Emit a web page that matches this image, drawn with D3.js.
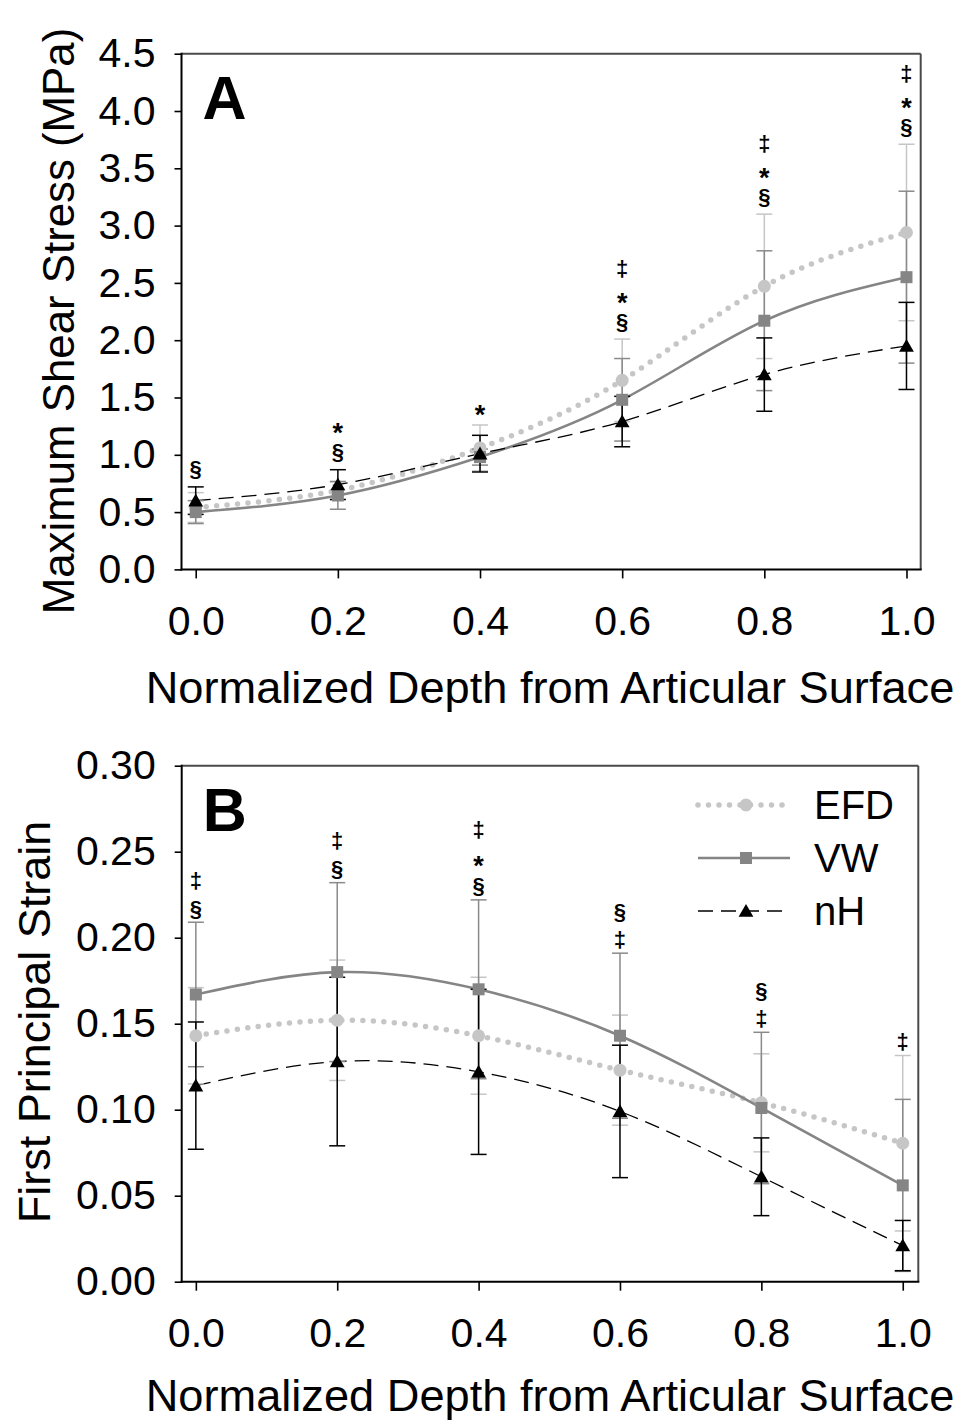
<!DOCTYPE html>
<html>
<head>
<meta charset="utf-8">
<script src="https://cdn.jsdelivr.net/npm/d3@7"></script>
<style>
  html, body { margin: 0; padding: 0; background: #fff; }
  svg { display: block; font-family: "Liberation Sans", Arial, sans-serif; }
</style>
</head>
<body>
<svg id="chart" width="957" height="1422"></svg>
<script>
// ---------- DATA ----------
const depths = [0.0, 0.2, 0.4, 0.6, 0.8, 1.0];
const seriesNames = ["EFD", "VW", "nH"];

// Panel A: Maximum Shear Stress (MPa)
const efdA = [0.54, 0.69, 1.06, 1.65, 2.47, 2.94];
const efdAErr = [0.13, 0.08, 0.20, 0.36, 0.63, 0.77];
const vwA = [0.50, 0.645, 0.98, 1.48, 2.17, 2.55];
const vwAErr = [0.10, 0.12, 0.07, 0.36, 0.61, 0.75];
const nhA = [0.60, 0.74, 1.01, 1.29, 1.70, 1.95];
const nhAErr = [0.12, 0.13, 0.16, 0.22, 0.32, 0.38];
const yTicksA = [0.0, 0.5, 1.0, 1.5, 2.0, 2.5, 3.0, 3.5, 4.0, 4.5];
// significance markers, listed from bottom to top
const sigA = [["§"], ["§", "*"], ["*"], ["§", "*", "‡"], ["§", "*", "‡"], ["§", "*", "‡"]];

// Panel B: First Principal Strain
const efdB = [0.143, 0.152, 0.143, 0.123, 0.104, 0.0805];
const efdBErr = [0.028, 0.035, 0.034, 0.032, 0.0285, 0.051];
const vwB = [0.167, 0.180, 0.170, 0.143, 0.101, 0.056];
const vwBErr = [0.042, 0.052, 0.052, 0.048, 0.044, 0.050];
const nhB = [0.114, 0.128, 0.122, 0.099, 0.061, 0.021];
const nhBErr = [0.037, 0.049, 0.048, 0.0385, 0.0226, 0.0146];
const yTicksB = [0.00, 0.05, 0.10, 0.15, 0.20, 0.25, 0.30];
const sigB = [["§", "‡"], ["§", "‡"], ["§", "*", "‡"], ["‡", "§"], ["‡", "§"], ["‡"]];

const xTicks = [0.0, 0.2, 0.4, 0.6, 0.8, 1.0];
const xTitle = "Normalized Depth from Articular Surface";

// ---------- STYLE ----------
const styles = {
  EFD: { line: "#c6c6c6", bar: "#c6c6c6", width: 5.5, dash: "0 10.5", cap: "round", marker: "circle" },
  VW:  { line: "#858585", bar: "#8a8a8a", width: 2.6, dash: null, cap: "butt", marker: "square" },
  nH:  { line: "#000000", bar: "#000000", width: 1.3, dash: "15 8", cap: "butt", marker: "triangle" }
};

const svg = d3.select("#chart");

function drawMarker(g, type, cx, cy, color) {
  if (type === "circle") {
    g.append("circle").attr("cx", cx).attr("cy", cy).attr("r", 6.5).attr("fill", color);
  } else if (type === "square") {
    g.append("rect").attr("x", cx - 6).attr("y", cy - 6).attr("width", 12).attr("height", 12).attr("fill", color);
  } else {
    const s = d3.symbol().type(d3.symbolTriangle).size(95);
    g.append("path").attr("d", s()).attr("transform", `translate(${cx},${cy + 1.5})`).attr("fill", color);
  }
}

function drawPanel(cfg) {
  const x = d3.scaleLinear().domain(cfg.xDomain).range([cfg.left, cfg.right]);
  const y = d3.scaleLinear().domain(cfg.yDomain).range([cfg.bottom, cfg.top]);
  const g = svg.append("g");

  // axes
  const yAxis = d3.axisLeft(y).tickValues(cfg.yTicks).tickFormat(d3.format(cfg.yFmt))
    .tickSize(7).tickSizeOuter(0).tickPadding(19);
  const ya = g.append("g").attr("transform", `translate(${cfg.left},0)`).call(yAxis);
  ya.select(".domain").remove();
  ya.selectAll(".tick line").attr("stroke", "#000").attr("stroke-width", 1.6);
  ya.selectAll(".tick text").attr("font-size", 41).attr("fill", "#000")
    .attr("font-family", "Liberation Sans, Arial, sans-serif");

  const xAxis = d3.axisBottom(x).tickValues(xTicks).tickFormat(d3.format(".1f"))
    .tickSize(9).tickSizeOuter(0).tickPadding(27);
  const xa = g.append("g").attr("transform", `translate(0,${cfg.bottom})`).call(xAxis);
  xa.select(".domain").remove();
  xa.selectAll(".tick line").attr("stroke", "#000").attr("stroke-width", 1.6);
  xa.selectAll(".tick text").attr("font-size", 41).attr("fill", "#000")
    .attr("font-family", "Liberation Sans, Arial, sans-serif");

  // frame
  g.append("line").attr("x1", cfg.left).attr("x2", cfg.right).attr("y1", cfg.top).attr("y2", cfg.top)
    .attr("stroke", "#4a4a4a").attr("stroke-width", 2);
  g.append("line").attr("x1", cfg.right).attr("x2", cfg.right).attr("y1", cfg.top).attr("y2", cfg.bottom)
    .attr("stroke", "#4a4a4a").attr("stroke-width", 2);
  g.append("line").attr("x1", cfg.left).attr("x2", cfg.left).attr("y1", cfg.top - 1).attr("y2", cfg.bottom + 1)
    .attr("stroke", "#000").attr("stroke-width", 2);
  g.append("line").attr("x1", cfg.left - 1).attr("x2", cfg.right + 1).attr("y1", cfg.bottom).attr("y2", cfg.bottom)
    .attr("stroke", "#000").attr("stroke-width", 2);

  // titles
  g.append("text").attr("x", 550).attr("y", cfg.xTitleY).attr("text-anchor", "middle")
    .attr("font-size", 45.2).attr("fill", "#000").text(xTitle);
  g.append("text").attr("transform", `translate(${cfg.yTitleX},${cfg.yTitleY}) rotate(-90)`)
    .attr("text-anchor", "middle").attr("font-size", cfg.yTitleSize).attr("fill", "#000").text(cfg.yTitle);

  // panel letter
  g.append("text").attr("x", cfg.left + 21).attr("y", cfg.top + 65).attr("font-size", 61)
    .attr("font-weight", "bold").attr("fill", "#000").text(cfg.letter);

  const line = d3.line().x((d, i) => x(depths[i])).y(d => y(d)).curve(d3.curveNatural);

  // lines
  cfg.series.forEach(s => {
    const st = styles[s.name];
    g.append("path").attr("d", line(s.values)).attr("fill", "none")
      .attr("stroke", st.line).attr("stroke-width", st.width)
      .attr("stroke-dasharray", st.dash).attr("stroke-linecap", st.cap);
  });

  // error bars
  cfg.series.forEach(s => {
    const st = styles[s.name];
    s.values.forEach((v, i) => {
      const cx = x(depths[i]);
      const y1 = y(v + s.err[i]), y2 = y(v - s.err[i]);
      g.append("line").attr("x1", cx).attr("x2", cx).attr("y1", y1).attr("y2", y2)
        .attr("stroke", st.bar).attr("stroke-width", 1.5);
      [y1, y2].forEach(yy => {
        g.append("line").attr("x1", cx - 8).attr("x2", cx + 8).attr("y1", yy).attr("y2", yy)
          .attr("stroke", st.bar).attr("stroke-width", 1.5);
      });
    });
  });

  // markers
  cfg.series.forEach(s => {
    const st = styles[s.name];
    s.values.forEach((v, i) => drawMarker(g, st.marker, x(depths[i]), y(v), st.line));
  });

  // significance symbols
  cfg.sig.forEach((syms, i) => {
    const cx = x(depths[i]);
    const topVal = d3.max(cfg.series, s => s.values[i] + s.err[i]);
    const base = y(topVal) - cfg.sigOffset;
    syms.forEach((sym, k) => {
      const cy = base - k * cfg.sigStep;
      const isStar = sym === "*";
      const fs = isStar ? 27 : 22;
      const shift = isStar ? 0.6 : 0.3;
      g.append("text").attr("x", cx).attr("y", cy + shift * fs).attr("text-anchor", "middle")
        .attr("font-size", fs).attr("font-weight", "bold").attr("fill", "#000").text(sym);
    });
  });

  return { x, y, g };
}

drawPanel({
  letter: "A",
  left: 181.5, right: 920.7, top: 53.7, bottom: 569.4,
  xDomain: [-0.02, 1.02], yDomain: [0, 4.5],
  yTicks: yTicksA, yFmt: ".1f",
  yTitle: "Maximum Shear Stress (MPa)", yTitleX: 74, yTitleY: 321, yTitleSize: 43.8,
  xTitleY: 703,
  sig: sigA, sigOffset: 17, sigStep: 26.5,
  series: [
    { name: "EFD", values: efdA, err: efdAErr },
    { name: "VW", values: vwA, err: vwAErr },
    { name: "nH", values: nhA, err: nhAErr }
  ]
});

const pB = drawPanel({
  letter: "B",
  left: 181.7, right: 918.3, top: 765.7, bottom: 1281.7,
  xDomain: [-0.02, 1.022], yDomain: [0, 0.30],
  yTicks: yTicksB, yFmt: ".2f",
  yTitle: "First Principal Strain", yTitleX: 50, yTitleY: 1022, yTitleSize: 45,
  xTitleY: 1411,
  sig: sigB, sigOffset: 13, sigStep: 28,
  series: [
    { name: "EFD", values: efdB, err: efdBErr },
    { name: "VW", values: vwB, err: vwBErr },
    { name: "nH", values: nhB, err: nhBErr }
  ]
});

// legend (panel B)
const leg = pB.g.append("g");
seriesNames.forEach((name, i) => {
  const st = styles[name];
  const ly = 805 + i * 53;
  leg.append("line").attr("x1", 698).attr("x2", 790).attr("y1", ly).attr("y2", ly)
    .attr("stroke", st.line).attr("stroke-width", st.width)
    .attr("stroke-dasharray", st.dash).attr("stroke-linecap", st.cap);
  drawMarker(leg, st.marker, 746, ly, st.line);
  leg.append("text").attr("x", 814).attr("y", ly + 14).attr("font-size", 40)
    .attr("fill", "#000").text(name);
});
</script>
</body>
</html>
